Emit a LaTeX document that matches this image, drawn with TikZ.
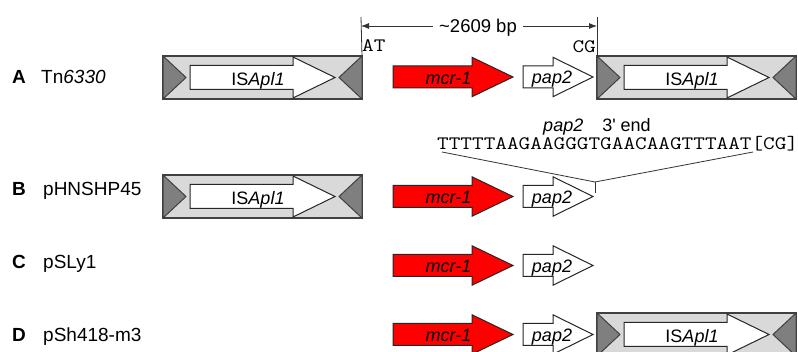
\documentclass[tikz,border=0pt]{standalone}
\usepackage{fontspec}
\setmainfont{Liberation Sans}
\usetikzlibrary{arrows.meta}

\definecolor{isfill}{HTML}{D9D9D9}
\definecolor{istri}{HTML}{7F7F7F}
\definecolor{isedge}{HTML}{404040}
\definecolor{mcrred}{HTML}{FF0000}

\tikzset{
  isbox/.style={fill=isfill, draw=isedge, line width=1.2pt},
  istriangle/.style={fill=istri, draw=isedge, line width=1pt, line join=miter},
  genearrow/.style={fill=white, draw=black!85, line width=1pt, line join=miter},
  genetext/.style={anchor=base, inner sep=0pt, font=\fontsize{18}{20}\selectfont},
  rowletter/.style={anchor=base west, inner sep=0pt, font=\fontsize{19}{21}\selectfont\bfseries},
  rowname/.style={anchor=base west, inner sep=0pt, font=\fontsize{19}{21}\selectfont},
  seqtext/.style={inner sep=0pt, font=\fontsize{19}{21}\ttfamily},
  thinline/.style={draw=black!80, line width=0.8pt},
}

% IS element: left x, centre y, name prefix
\newcommand\iselement[3]{%
  \begin{scope}[shift={(#1,#2)}]
    \draw[isbox] (0,-21.5) rectangle (199,21.5);
    \draw[istriangle] (0,-21.5) -- (23,0) -- (0,21.5) -- cycle;
    \draw[istriangle] (199,-21.5) -- (176,0) -- (199,21.5) -- cycle;
    \draw[genearrow] (27,-12) -- (130,-12) -- (130,-20.5) -- (172,0)
      -- (130,20.5) -- (130,12) -- (27,12) -- cycle;
    \coordinate (#3-nw) at (0,-21.5);
    \coordinate (#3-ne) at (199,-21.5);
    \node[genetext] (#3) at (95,8) {IS\textit{Apl1}};
  \end{scope}}

% mcr-1 gene: centre y, name
\newcommand\mcrgene[2]{%
  \begin{scope}[shift={(393,#1)}]
    \draw[genearrow, fill=mcrred] (0,-11) -- (79,-11) -- (79,-19.7) -- (120,0)
      -- (79,19.7) -- (79,11) -- (0,11) -- cycle;
    \node[genetext] (#2) at (55.5,7.5) {\textit{mcr-1}};
  \end{scope}}

% pap2 gene: centre y, name
\newcommand\papgene[2]{%
  \begin{scope}[shift={(523,#1)}]
    \draw[genearrow] (0,-11) -- (30,-11) -- (30,-19.7) -- (70,0)
      -- (30,19.7) -- (30,11) -- (0,11) -- cycle;
    \coordinate (#2-tip) at (70,0);
    \node[genetext] (#2) at (29,7) {\textit{pap2}};
  \end{scope}}

\begin{document}
\begin{tikzpicture}[x=1pt, y=-1pt]
  \useasboundingbox (0,0) rectangle (798,352);
  \clip (0,0) rectangle (798,352);

  % row labels
  \node[rowletter] (la) at (12,84) {A};
  \node[rowname] (na) at (41,84) {Tn\textit{6330}};
  \node[rowletter] (lb) at (12,196) {B};
  \node[rowname] (nb) at (43,196) {pHNSHP45};
  \node[rowletter] (lc) at (12,269) {C};
  \node[rowname] (nc) at (43,269) {pSLy1};
  \node[rowletter] (ld) at (12,342) {D};
  \node[rowname] (nd) at (43,342) {pSh418-m3};

  % A: Tn6330
  \iselement{163}{77.5}{isAL}
  \mcrgene{77}{mcrA}
  \papgene{77}{papA}
  \iselement{597}{77.5}{isAR}

  % B: pHNSHP45
  \iselement{163}{196.5}{isB}
  \mcrgene{196.5}{mcrB}
  \papgene{196.5}{papB}

  % C: pSLy1
  \mcrgene{265.5}{mcrC}
  \papgene{265.5}{papC}

  % D: pSh418-m3
  \mcrgene{334.5}{mcrD}
  \papgene{334.5}{papD}
  \iselement{597}{334.5}{isD}

  % insertion span of Tn6330
  \coordinate (dimL) at (361,17);
  \coordinate (dimR) at (597,17);
  \coordinate (arrL) at (361,26);
  \coordinate (arrR) at (597,26);
  \draw[thinline] (dimL) -- (isAL-ne);
  \draw[thinline] (dimR) -- (isAR-nw);
  \draw[thinline, {Latex[length=8pt,width=6pt]}-{Latex[length=8pt,width=6pt]}] (arrL) -- (arrR);
  \node[fill=white, inner xsep=6pt, inner ysep=1pt, anchor=base,
        font=\fontsize{18.5}{20}\selectfont] (span) at (478,32.5) {\raisebox{0pt}{\char"007E}2609 bp};
  \node[seqtext, anchor=base west] (at) at (362,52) {\scalebox{1.19}[1]{AT}};
  \node[seqtext, anchor=base east] (cg) at (596,53) {\scalebox{1.19}[1]{CG}};

  % pap2 3' end sequence
  \node[genetext] (endlabel) at (597,132)
    {\textit{pap2}\hspace{19pt}3\textquotesingle{} end};
  \node[seqtext, anchor=base west] (seq) at (437,150)
    {\scalebox{1.19}[1]{TTTTTAAGAAGGGTGAACAAGTTTAAT[CG]}};
  \coordinate (seqL) at (442,152);
  \coordinate (seqR) at (753,152);
  \coordinate (join) at (595,182);
  \coordinate (joinE) at (595,193);
  \draw[thinline] (seqL) -- (join) -- (seqR);
  \draw[thinline] (join) -- (joinE);
\end{tikzpicture}
\end{document}
